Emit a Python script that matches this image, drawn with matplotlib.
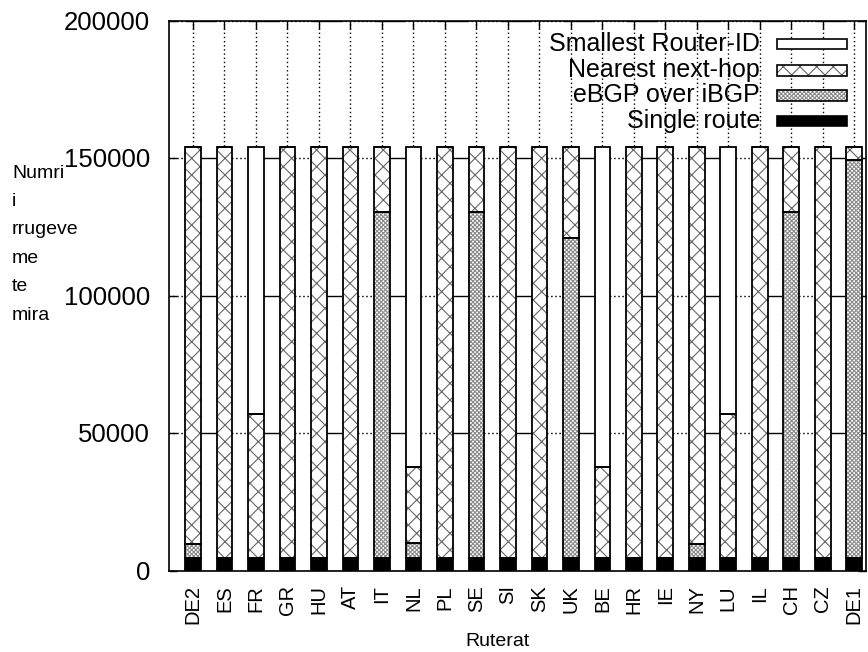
import matplotlib
matplotlib.use("Agg")
import matplotlib.pyplot as plt
from matplotlib.patches import Rectangle
import numpy as np

plt.rcParams['font.family'] = ['Liberation Sans', 'DejaVu Sans']
plt.rcParams['lines.scale_dashes'] = False
plt.rcParams['hatch.linewidth'] = 0.8

routers = ["DE2", "ES", "FR", "GR", "HU", "AT", "IT", "NL", "PL", "SE", "SI",
           "SK", "UK", "BE", "HR", "IE", "NY", "LU", "IL", "CH", "CZ", "DE1"]

single_route = [4600] * 22
ebgp_over_ibgp = [5200, 0, 0, 0, 0, 0, 125900, 5400, 0, 125900, 0,
                  0, 116400, 0, 0, 0, 5200, 0, 0, 125900, 0, 144800]
nearest_next_hop = [144200, 149400, 52200, 149400, 149400, 149400, 23500, 27600, 149400, 23500, 149400,
                    149400, 33000, 33000, 149400, 149400, 144200, 52200, 149400, 23500, 149400, 4600]
smallest_router_id = [0, 0, 97200, 0, 0, 0, 0, 116400, 0, 0, 0,
                      0, 0, 116400, 0, 0, 0, 97200, 0, 0, 0, 0]

yticks = [0, 50000, 100000, 150000, 200000]
ylabel_words = ["Numri", "i", "rrugeve", "me", "te", "mira"]

# bottom to top: label, face colour, hatch colour, hatch
series = [
    ("Single route", single_route, "black", None, None),
    ("eBGP over iBGP", ebgp_over_ibgp, "white", "#8a8a8a", "xxxxxxxx"),
    ("Nearest next-hop", nearest_next_hop, "white", "#666666", "xx"),
    ("Smallest Router-ID", smallest_router_id, "white", None, None),
]

W, H = 868, 652
fig = plt.figure(figsize=(W / 100, H / 100), dpi=100)
ax = fig.add_axes([169 / W, 1 - 570.5 / H, 697 / W, 550 / H])

x = np.arange(len(routers))
width = 0.5
bottom = np.zeros(len(routers))
for label, vals, face, hcol, hatch in series:
    vals = np.array(vals, dtype=float)
    if hatch:
        ax.bar(x, vals, width, bottom=bottom, color=face, edgecolor=hcol,
               hatch=hatch, linewidth=0, zorder=2)
    else:
        ax.bar(x, vals, width, bottom=bottom, color=face, linewidth=0, zorder=2)
    ax.bar(x, vals, width, bottom=bottom, fill=False, edgecolor="black",
           linewidth=1.3, zorder=3)
    bottom += vals

ax.set_xlim(-0.76, 21.37)
ax.set_ylim(0, 200000)
ax.set_yticks(yticks)
ax.set_yticklabels([str(v) for v in yticks], fontsize=18.5)
ax.set_xticks(x)
ax.set_xticklabels(routers, rotation=90, fontsize=14.5)

ax.set_axisbelow(True)
px = 0.72
dots = []
for _ in range(7):
    dots += [1.08, 1.89]
grid_pattern = (47 * px, (31.5 * px, 1.89) + tuple(dots[:-1]) + (1.89,))
ax.yaxis.grid(True, color="black", linewidth=1.0, linestyle=grid_pattern)
ax.xaxis.grid(True, color="black", linewidth=1.0, linestyle=(0, (1.0, 2.0)))

ax.tick_params(axis="both", direction="in", top=True, right=True,
               length=6, width=1.0, color="black")
ax.tick_params(axis="y", pad=13.5)
ax.tick_params(axis="x", pad=10.5)
for sp in ax.spines.values():
    sp.set_linewidth(1.2)

fig.text(497 / W, 1 - 641 / H, "Ruterat", fontsize=14, ha="center", va="center")
# y label, one word per line
for i, word in enumerate(ylabel_words):
    fig.text(12 / W, 1 - (173 + i * 28.4) / H, word, fontsize=14,
             ha="left", va="center")

# key in the upper right corner
key_rows = [("Smallest Router-ID", "white", None, None, 44),
            ("Nearest next-hop", "white", "#666666", "xx", 70.5),
            ("eBGP over iBGP", "white", "#8a8a8a", "xxxxxxxx", 95.5),
            ("Single route", "black", None, None, 121)]
for label, face, hcol, hatch, yc in key_rows:
    fig.text(760 / W, 1 - yc / H, label, fontsize=18, ha="right", va="center")
    h = 10
    rect = Rectangle((777 / W, 1 - (yc + h / 2) / H), 70 / W, h / H,
                     transform=fig.transFigure, facecolor=face,
                     edgecolor=hcol if hatch else "black", hatch=hatch,
                     linewidth=0 if hatch else 1.2)
    fig.add_artist(rect)
    if hatch:
        fig.add_artist(Rectangle((777 / W, 1 - (yc + h / 2) / H), 70 / W, h / H,
                                 transform=fig.transFigure, fill=False,
                                 edgecolor="black", linewidth=1.2))

fig.savefig("out.png", dpi=100)
